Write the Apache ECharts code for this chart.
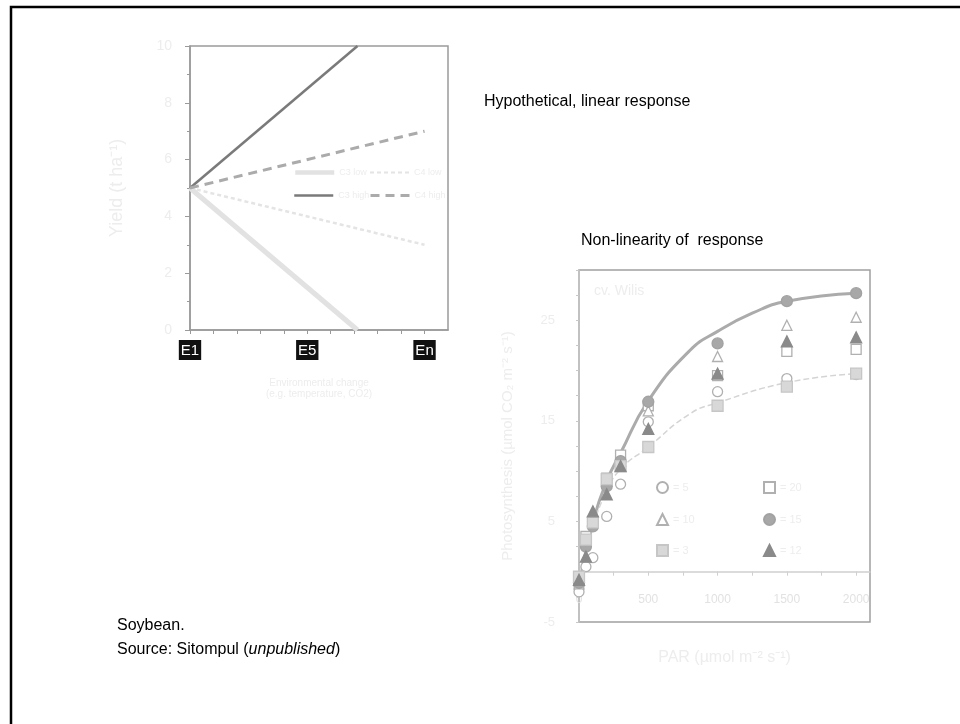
<!DOCTYPE html>
<html>
<head>
<meta charset="utf-8">
<script src="https://cdn.jsdelivr.net/npm/echarts@6/dist/echarts.min.js"></script>
<style>
html,body{margin:0;padding:0;background:#fff;}
#main{width:960px;height:724px;}
</style>
</head>
<body>
<div id="main"></div>
<script>
// ---- Left chart: hypothetical linear response ----
const envTickPos = [0, 5, 10];
const envTickLabels = ['E1', 'E5', 'En'];
const lineNames = ['C3 low', 'C4 low', 'C3 high', 'C4 high'];
const darkSolid = [[0, 5], [7.14, 10]];
const grayDashed = [[0, 5], [10, 7]];
const lightDotted = [[0, 5], [10, 3]];
const lightThick = [[0, 5], [7.14, 0]];

// ---- Right chart: non-linearity of response (soybean) ----
const parLevels = [0, 50, 100, 200, 300, 500, 1000, 1500, 2000];
const seriesNames = ['= 5', '= 20', '= 10', '= 15', '= 3', '= 12'];
const openCircle   = [-2.0, 0.5, 1.4, 5.5, 8.7, 14.9, 17.9, 19.2, 19.6];
const openSquare   = [-1.0, 3.5, 5.0, 9.3, 11.6, 16.5, 19.5, 21.9, 22.1];
const openTriangle = [-1.2, 3.0, 5.5, 9.0, 11.0, 16.0, 21.4, 24.5, 25.3];
const filledCircle = [-1.1, 2.5, 4.5, 8.5, 11.0, 16.9, 22.7, 26.9, 27.7];
const graySquare   = [-0.5, 3.2, 4.9, 9.2, 10.5, 12.4, 16.5, 18.4, 19.7];
const filledTriangle = [-0.8, 1.5, 6.0, 7.7, 10.5, 14.2, 19.7, 22.9, 23.3];
const fitHighPar = [0, 100, 200, 300, 500, 800, 1000, 1250, 1500, 2000];
const fitHighVal = [-1.3, 4.8, 9.0, 11.8, 17.0, 22.0, 23.9, 25.7, 26.9, 27.7];
const fitLowPar = [0, 100, 200, 300, 500, 800, 1000, 1500, 2000];
const fitLowVal = [-0.5, 4.5, 8.0, 10.2, 12.4, 15.7, 16.8, 18.8, 19.7];
const yLabelValues = [-5, 5, 15, 25];
const xLabelValues = [0, 500, 1000, 1500, 2000];

const FONT = 'Liberation Sans, Arial, sans-serif';
const FAINT = '#ededed';

function pairs(xs, ys) { return xs.map((x, i) => [x, ys[i]]); }

const chart = echarts.init(document.getElementById('main'), null, {renderer: 'canvas'});

const scatterDefs = [
  {name: seriesNames[0], data: openCircle, symbol: 'circle', fill: '#ffffff', border: '#b0b0b0', size: 10},
  {name: seriesNames[1], data: openSquare, symbol: 'rect', fill: '#ffffff', border: '#b0b0b0', size: 10},
  {name: seriesNames[2], data: openTriangle, symbol: 'triangle', fill: '#ffffff', border: '#b0b0b0', size: 10},
  {name: seriesNames[3], data: filledCircle, symbol: 'circle', fill: '#a8a8a8', border: '#a2a2a2', size: 11},
  {name: seriesNames[4], data: graySquare, symbol: 'rect', fill: '#d8d8d8', border: '#c6c6c6', size: 11},
  {name: seriesNames[5], data: filledTriangle, symbol: 'triangle', fill: '#8a8a8a', border: '#8a8a8a', size: 11}
];
const legendPos = [
  [656, 481], [763, 481],
  [656, 513], [763, 513],
  [656, 544], [763, 544]
];
const lineLegendPos = [[293, 168], [369, 168], [293, 191], [369, 191]];
const lineLegendWidth = [4.5, 2, 2.5, 3];

const normalText = {fontFamily: FONT, fontSize: 16, fontWeight: 'normal', color: '#000'};

const option = {
  animation: false,
  backgroundColor: '#ffffff',
  textStyle: {fontFamily: FONT},
  title: [
    {text: 'Hypothetical, linear response', left: 484, top: 94, padding: 0, textStyle: normalText},
    {text: 'Non-linearity of  response', left: 581, top: 233, padding: 0, textStyle: normalText},
    {text: 'Soybean.', left: 117, top: 618, padding: 0, textStyle: normalText},
    {text: '{n|Source: Sitompul (}{i|unpublished}{n|)}', left: 117, top: 642, padding: 0,
     textStyle: {fontWeight: 'normal', rich: {
       n: {fontFamily: FONT, fontSize: 16, color: '#000', fontWeight: 'normal'},
       i: {fontFamily: FONT, fontSize: 16, color: '#000', fontWeight: 'normal', fontStyle: 'italic'}
     }}},
    {text: 'cv. Wilis', left: 594, top: 284, padding: 0,
     textStyle: {fontFamily: FONT, fontSize: 14, fontWeight: 'normal', color: FAINT}}
  ],
  legend: lineNames.map((n, i) => ({
    data: [n], left: lineLegendPos[i][0], top: lineLegendPos[i][1],
    itemWidth: 39, itemHeight: 10, padding: 0,
    itemStyle: {opacity: 0},
    lineStyle: {width: lineLegendWidth[i]},
    textStyle: {color: FAINT, fontSize: 9}
  })).concat(scatterDefs.map((d, i) => ({
    data: [d.name], left: legendPos[i][0], top: legendPos[i][1], padding: 0,
    itemWidth: 11, itemHeight: 11, itemGap: 0,
    textStyle: {color: FAINT, fontSize: 11}
  }))),
  grid: [
    {left: 190, top: 46, width: 258, height: 284, show: true, borderColor: '#9a9a9a', borderWidth: 1.5, backgroundColor: 'transparent'},
    {left: 579, top: 270, width: 291, height: 352, show: true, borderColor: '#a0a0a0', borderWidth: 1.5, backgroundColor: 'transparent'}
  ],
  xAxis: [
    {type: 'value', gridIndex: 0, min: 0, max: 11, interval: 1,
     name: 'Environmental change\n(e.g. temperature, CO2)', nameLocation: 'middle', nameGap: 48,
     nameTextStyle: {color: FAINT, fontSize: 10, lineHeight: 11},
     axisLine: {show: true, lineStyle: {color: '#9a9a9a', width: 1.5}},
     axisTick: {show: true, length: 4, lineStyle: {color: '#9a9a9a'}},
     splitLine: {show: false},
     axisLabel: {margin: 12, showMaxLabel: false,
       formatter: function (v) {
         const k = envTickPos.indexOf(v);
         return k >= 0 ? '{b|' + envTickLabels[k] + '}' : '';
       },
       rich: {b: {backgroundColor: '#111', color: '#fff', fontFamily: FONT, fontSize: 15,
                  padding: [3, 2, 2, 2], lineHeight: 16}}}},
    {type: 'value', gridIndex: 1, min: 0, max: 2100, interval: 250,
     name: 'PAR (µmol m⁻² s⁻¹)', nameLocation: 'middle', nameGap: 28,
     nameTextStyle: {color: FAINT, fontSize: 16},
     axisLine: {show: true, onZero: true, lineStyle: {color: '#cfcfcf', width: 1.5}},
     axisTick: {show: true, length: 4, lineStyle: {color: '#d0d0d0'}},
     splitLine: {show: false},
     axisLabel: {margin: -28, color: '#e2e2e2', fontSize: 12, showMaxLabel: false, showMinLabel: true,
       hideOverlap: false,
       formatter: function (v) { return xLabelValues.indexOf(v) >= 0 ? String(v) : ''; }}}
  ],
  yAxis: [
    {type: 'value', gridIndex: 0, min: 0, max: 10, interval: 2,
     name: 'Yield (t ha⁻¹)', nameLocation: 'middle', nameGap: 64,
     nameTextStyle: {color: FAINT, fontSize: 18},
     axisLine: {show: true, lineStyle: {color: '#9a9a9a', width: 1.5}},
     axisTick: {show: true, length: 5, lineStyle: {color: '#9a9a9a'}},
     minorTick: {show: true, splitNumber: 2, length: 3, lineStyle: {color: '#9a9a9a'}},
     splitLine: {show: false}, minorSplitLine: {show: false},
     axisLabel: {margin: 18, color: FAINT, fontSize: 14}},
    {type: 'value', gridIndex: 1, min: -5, max: 30, interval: 2.5,
     name: 'Photosynthesis (µmol CO₂ m⁻² s⁻¹)', nameLocation: 'middle', nameGap: 64,
     nameTextStyle: {color: FAINT, fontSize: 15},
     axisLine: {show: true, lineStyle: {color: '#c4c4c4', width: 1.5}},
     axisTick: {show: true, length: 3, lineStyle: {color: '#c8c8c8'}},
     splitLine: {show: false},
     axisLabel: {margin: 24, color: FAINT, fontSize: 13,
       formatter: function (v) { return yLabelValues.indexOf(v) >= 0 ? String(v) : ''; }}}
  ],
  graphic: [
    {type: 'rect', silent: true, z: 100,
     shape: {x: 11, y: 7, width: 970, height: 740},
     style: {fill: null, stroke: '#000', lineWidth: 2.5}}
  ],
  series: [
    {name: lineNames[0], type: 'line', xAxisIndex: 0, yAxisIndex: 0, data: lightThick,
     symbol: 'none', clip: true, z: 2, lineStyle: {color: '#e2e2e2', width: 5}, itemStyle: {color: '#e2e2e2'}},
    {name: lineNames[1], type: 'line', xAxisIndex: 0, yAxisIndex: 0, data: lightDotted,
     symbol: 'none', clip: true, z: 2, lineStyle: {color: '#e4e4e4', width: 2.5, type: [4, 3]}, itemStyle: {color: '#e4e4e4'}},
    {name: lineNames[2], type: 'line', xAxisIndex: 0, yAxisIndex: 0, data: darkSolid,
     symbol: 'none', clip: true, z: 3, lineStyle: {color: '#7a7a7a', width: 2.5}, itemStyle: {color: '#7a7a7a'}},
    {name: lineNames[3], type: 'line', xAxisIndex: 0, yAxisIndex: 0, data: grayDashed,
     symbol: 'none', clip: true, z: 3, lineStyle: {color: '#ababab', width: 3, type: [9, 6]}, itemStyle: {color: '#ababab'}},
    {name: 'fit high', type: 'line', xAxisIndex: 1, yAxisIndex: 1, data: pairs(fitHighPar, fitHighVal),
     symbol: 'none', smooth: 0.5, z: 2, lineStyle: {color: '#ababab', width: 3}},
    {name: 'fit low', type: 'line', xAxisIndex: 1, yAxisIndex: 1, data: pairs(fitLowPar, fitLowVal),
     symbol: 'none', smooth: 0.5, z: 2, lineStyle: {color: '#d4d4d4', width: 1.5, type: [6, 3]}}
  ].concat(scatterDefs.map(d => ({
    name: d.name, type: 'scatter', xAxisIndex: 1, yAxisIndex: 1,
    data: pairs(parLevels, d.data), symbol: d.symbol, symbolSize: d.size, z: 4,
    itemStyle: {color: d.fill, borderColor: d.border, borderWidth: 1.3, opacity: 1}
  })))
};
chart.setOption(option);
</script>
</body>
</html>
